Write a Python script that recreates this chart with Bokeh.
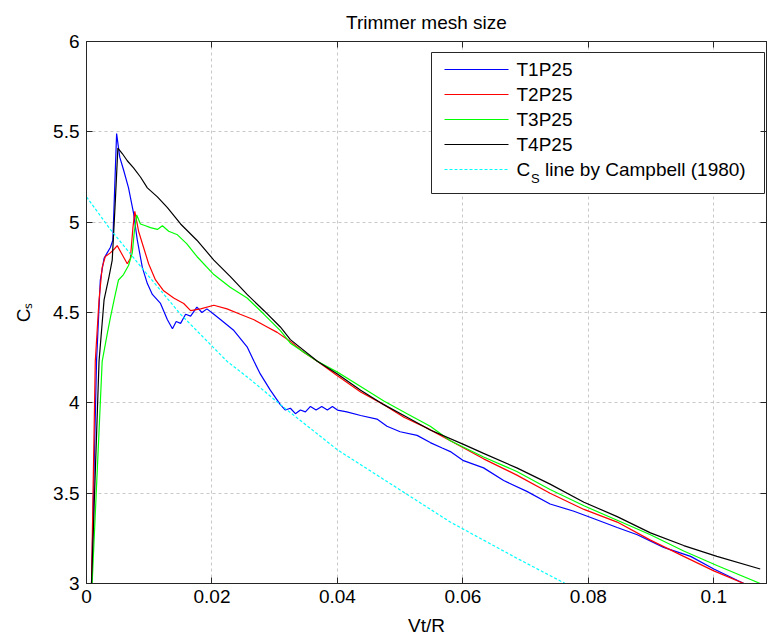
from bokeh.plotting import figure
from bokeh.models import Range1d, LinearAxis, FixedTicker, Title
from bokeh.core.properties import value
from bokeh.embed import file_html
from bokeh.resources import INLINE

# ---------------- data ----------------
title_text = "Trimmer mesh size"
x_label = "Vt/R"
y_label = "C\u209b"
x_ticks = [0, 0.02, 0.04, 0.06, 0.08, 0.1]
x_tick_labels = ["0", "0.02", "0.04", "0.06", "0.08", "0.1"]
y_ticks = [3, 3.5, 4, 4.5, 5, 5.5, 6]
y_tick_labels = ["3", "3.5", "4", "4.5", "5", "5.5", "6"]

T1P25 = [(0.0008, 3.0), (0.0016, 4.23), (0.0022, 4.68), (0.0028, 4.80), (0.0033, 4.83),
         (0.0038, 4.86), (0.0042, 4.90), (0.0048, 5.49), (0.0053, 5.36), (0.0059, 5.29),
         (0.0067, 5.19), (0.0075, 5.05), (0.0081, 4.90), (0.0089, 4.75), (0.0097, 4.66),
         (0.0105, 4.60), (0.0118, 4.55), (0.0129, 4.46), (0.0137, 4.41), (0.0143, 4.45),
         (0.0150, 4.44), (0.0158, 4.49), (0.0166, 4.48), (0.0176, 4.53), (0.0184, 4.50),
         (0.0192, 4.52), (0.0203, 4.49), (0.0214, 4.46), (0.0235, 4.40), (0.0256, 4.31),
         (0.0267, 4.23), (0.0277, 4.16), (0.0293, 4.07), (0.0309, 3.99), (0.0317, 3.96),
         (0.0325, 3.97), (0.0333, 3.94), (0.0341, 3.96), (0.0349, 3.95), (0.0357, 3.98),
         (0.0366, 3.96), (0.0375, 3.98), (0.0384, 3.96), (0.0392, 3.98), (0.0400, 3.96),
         (0.0415, 3.95), (0.0437, 3.93), (0.0463, 3.91), (0.0479, 3.87), (0.0500, 3.84),
         (0.0527, 3.82), (0.0548, 3.78), (0.0567, 3.75), (0.0580, 3.73), (0.0601, 3.68),
         (0.0633, 3.64), (0.0665, 3.57), (0.0702, 3.51), (0.0739, 3.44), (0.0777, 3.40),
         (0.0808, 3.36), (0.0846, 3.31), (0.0878, 3.27), (0.0920, 3.20), (0.0963, 3.15),
         (0.1000, 3.08), (0.1048, 3.0)]

T2P25 = [(0.0008, 3.0), (0.0014, 4.23), (0.0020, 4.57), (0.0025, 4.75), (0.0030, 4.81),
         (0.0038, 4.83), (0.0044, 4.85), (0.0049, 4.87), (0.0057, 4.82), (0.0065, 4.77),
         (0.0070, 4.80), (0.0074, 4.97), (0.0077, 5.06), (0.0083, 4.95), (0.0091, 4.86),
         (0.0099, 4.77), (0.0110, 4.68), (0.0123, 4.62), (0.0139, 4.58), (0.0155, 4.55),
         (0.0166, 4.51), (0.0182, 4.52), (0.0203, 4.54), (0.0224, 4.52), (0.0245, 4.49),
         (0.0267, 4.46), (0.0288, 4.42), (0.0304, 4.39), (0.0325, 4.34), (0.0346, 4.28),
         (0.0368, 4.23), (0.0400, 4.15), (0.0437, 4.06), (0.0474, 3.99), (0.0506, 3.92),
         (0.0543, 3.86), (0.0580, 3.79), (0.0633, 3.69), (0.0686, 3.60), (0.0739, 3.50),
         (0.0793, 3.41), (0.0846, 3.34), (0.0899, 3.24), (0.0952, 3.15), (0.1000, 3.07),
         (0.1048, 3.0)]

T3P25 = [(0.0009, 3.0), (0.0025, 4.23), (0.0033, 4.38), (0.0038, 4.47), (0.0044, 4.57),
         (0.0051, 4.68), (0.0059, 4.71), (0.0067, 4.76), (0.0073, 4.83), (0.0076, 4.94),
         (0.0080, 5.04), (0.0086, 4.99), (0.0094, 4.98), (0.0102, 4.97), (0.0113, 4.96),
         (0.0121, 4.98), (0.0131, 4.95), (0.0145, 4.93), (0.0160, 4.88), (0.0176, 4.81),
         (0.0203, 4.71), (0.0229, 4.64), (0.0256, 4.58), (0.0283, 4.49), (0.0309, 4.40),
         (0.0325, 4.33), (0.0368, 4.23), (0.0400, 4.17), (0.0437, 4.09), (0.0474, 4.01),
         (0.0511, 3.94), (0.0548, 3.87), (0.0580, 3.79), (0.0633, 3.70), (0.0686, 3.62),
         (0.0739, 3.52), (0.0793, 3.43), (0.0846, 3.35), (0.0899, 3.27), (0.0952, 3.18),
         (0.1005, 3.10), (0.1074, 3.0)]

T4P25 = [(0.0008, 3.0), (0.0020, 4.23), (0.0028, 4.57), (0.0036, 4.70), (0.0041, 4.79),
         (0.0046, 5.12), (0.0050, 5.41), (0.0057, 5.38), (0.0065, 5.34), (0.0075, 5.30),
         (0.0086, 5.25), (0.0097, 5.19), (0.0113, 5.14), (0.0129, 5.08), (0.0150, 4.99),
         (0.0176, 4.90), (0.0203, 4.79), (0.0229, 4.70), (0.0256, 4.60), (0.0283, 4.51),
         (0.0309, 4.42), (0.0325, 4.35), (0.0368, 4.23), (0.0400, 4.16), (0.0437, 4.07),
         (0.0474, 3.99), (0.0511, 3.92), (0.0548, 3.85), (0.0601, 3.77), (0.0633, 3.72),
         (0.0686, 3.64), (0.0739, 3.55), (0.0793, 3.45), (0.0846, 3.37), (0.0899, 3.28),
         (0.0952, 3.21), (0.1005, 3.15), (0.1074, 3.08)]

CAMPBELL = [(0.0, 5.14), (0.0038, 4.96), (0.0097, 4.71), (0.0150, 4.49), (0.0224, 4.23),
            (0.0261, 4.13), (0.0309, 3.99), (0.0400, 3.74), (0.0580, 3.34), (0.0633, 3.24),
            (0.0686, 3.14), (0.0763, 3.0)]

series_names = ["T1P25", "T2P25", "T3P25", "T4P25"]
series_data = [T1P25, T2P25, T3P25, T4P25]
series_colors = ["#0000ff", "#ff0000", "#00ff00", "#000000"]
campbell_color = "#00ffff"
campbell_parts = ["C", "S", "line by Campbell (1980)"]

# ---------------- figure ----------------
FONT = "Liberation Sans"
FS = "19px"
AX = "#262626"
X0, X1, Y0, Y1 = 0.0, 0.1084, 3.0, 6.0

p = figure(width=769, height=642, x_range=Range1d(X0, X1), y_range=Range1d(Y0, Y1),
           output_backend="svg", toolbar_location=None,
           min_border_left=86, min_border_right=3, min_border_top=41, min_border_bottom=59)
p.background_fill_color = "white"
p.border_fill_color = "white"
p.outline_line_color = AX
p.outline_line_width = 1

p.title = Title(text=title_text, align="center", text_font=FONT, text_font_size=FS,
                text_font_style="normal", text_color="black", standoff=18)

xt = FixedTicker(ticks=x_ticks)
yt = FixedTicker(ticks=y_ticks)

xa = p.xaxis[0]
xa.ticker = xt
xa.major_label_overrides = dict(zip(x_ticks, x_tick_labels))
ya = p.yaxis[0]
ya.ticker = yt
ya.major_label_overrides = dict(zip(y_ticks, y_tick_labels))

for ax in (xa, ya):
    ax.major_tick_in = 6
    ax.major_tick_out = 0
    ax.minor_tick_line_color = None
    ax.axis_line_color = AX
    ax.major_tick_line_color = AX
    ax.major_label_text_font = FONT
    ax.major_label_text_font_size = FS
    ax.major_label_text_color = "black"
    ax.axis_label_text_font = FONT
    ax.axis_label_text_font_size = FS
    ax.axis_label_text_font_style = "normal"
    ax.axis_label_text_color = "black"

xa.axis_label = x_label
xa.major_label_standoff = 6
xa.axis_label_standoff = 9
ya.axis_label = y_label
ya.major_label_standoff = 7
ya.axis_label_standoff = 16

top = LinearAxis(ticker=xt, major_tick_in=6, major_tick_out=0, minor_tick_line_color=None,
                 major_label_overrides={t: "" for t in x_ticks}, major_label_standoff=0,
                 axis_line_color=AX, major_tick_line_color=AX)
right = LinearAxis(ticker=yt, major_tick_in=6, major_tick_out=0, minor_tick_line_color=None,
                   major_label_overrides={t: "" for t in y_ticks}, major_label_standoff=0,
                   axis_line_color=AX, major_tick_line_color=AX)
p.add_layout(top, "above")
p.add_layout(right, "right")

for g in (p.xgrid[0], p.ygrid[0]):
    g.grid_line_color = "#c8c8c8"
    g.grid_line_dash = "3 3"
    g.grid_line_width = 1
p.xgrid[0].ticker = xt
p.ygrid[0].ticker = yt

# ---------------- data lines ----------------
for name, data, col in zip(series_names, series_data, series_colors):
    xs = [d[0] for d in data]
    ys = [d[1] for d in data]
    p.line(xs, ys, line_color=col, line_width=1.2, name=name)

cx = [d[0] for d in CAMPBELL]
cy = [d[1] for d in CAMPBELL]
p.line(cx, cy, line_color=campbell_color, line_width=1.2, line_dash="3 2", name="campbell")

# ---------------- legend (drawn on top of the data, in plot units) ----------------
px_x = (X1 - X0) / 680.0      # data units per screen pixel (frame is 680 px wide)
px_y = (Y1 - Y0) / 542.0      # frame is 542 px tall


def sx(px):                   # frame-relative pixel -> data x
    return X0 + px * px_x


def sy(py):                   # pixels below frame top -> data y
    return Y1 - py * px_y


box_l, box_r, box_t, box_b = sx(345), sx(678), sy(11), sy(152)
row_y = [sy(28 + 25 * i) for i in range(5)]
g_x0, g_x1, t_x = sx(358), sx(422), sx(430)

p.quad(left=[box_l], right=[box_r], top=[box_t], bottom=[box_b],
       fill_color="white", line_color=AX, line_width=1)

# one scalar-coloured sample line per entry
for i, col in enumerate(series_colors):
    p.line([g_x0, g_x1], [row_y[i], row_y[i]], line_color=col, line_width=1.2)
p.line([g_x0, g_x1], [row_y[4], row_y[4]], line_color=campbell_color, line_width=1.2,
       line_dash="3 2")

p.text(x=[t_x] * 4, y=row_y[:4], text=series_names, text_font=value(FONT),
       text_font_size=FS, text_align="left", text_baseline="middle", text_color="black")
p.text(x=[t_x], y=[row_y[4]], text=[campbell_parts[0]], text_font=value(FONT),
       text_font_size=FS, text_align="left", text_baseline="middle", text_color="black")
p.text(x=[t_x + 14.5 * px_x], y=[row_y[4] - 9 * px_y], text=[campbell_parts[1]],
       text_font=value(FONT), text_font_size="13px", text_align="left",
       text_baseline="middle", text_color="black")
p.text(x=[t_x + 28.5 * px_x], y=[row_y[4]], text=[campbell_parts[2]], text_font=value(FONT),
       text_font_size=FS, text_align="left", text_baseline="middle", text_color="black")

open("out.html", "w").write(file_html(p, INLINE))
